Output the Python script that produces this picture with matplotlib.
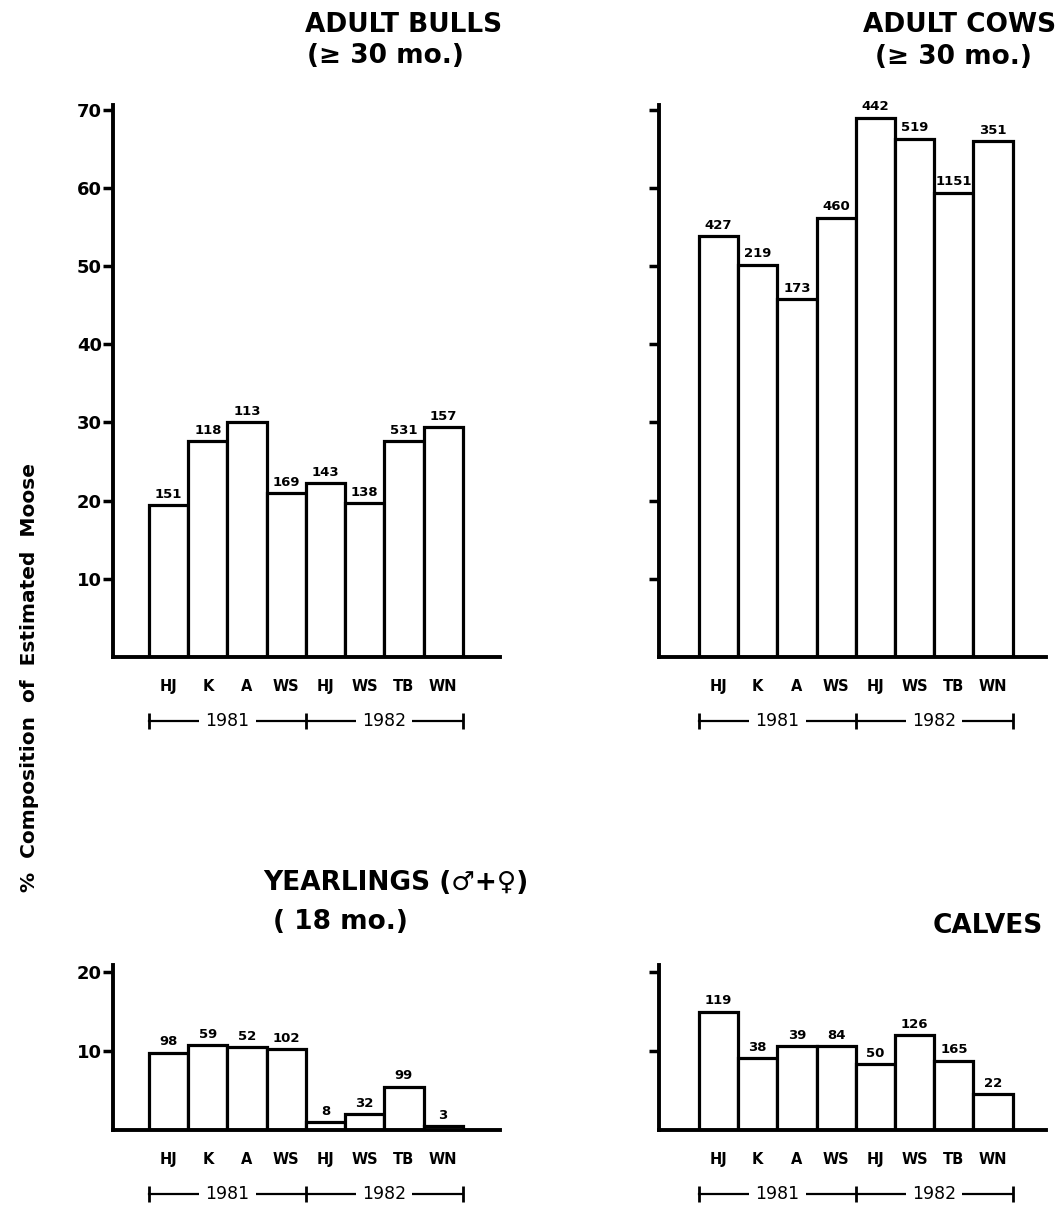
import matplotlib
matplotlib.use("Agg")
import matplotlib.pyplot as plt
from matplotlib.transforms import offset_copy

# study areas, 1981 then 1982
sites = ["HJ", "K", "A", "WS", "HJ", "WS", "TB", "WN"]
years = ["1981", "1982"]

bulls_pct = [19.4, 27.6, 30.0, 21.0, 22.2, 19.7, 27.6, 29.4]
bulls_n = [151, 118, 113, 169, 143, 138, 531, 157]

cows_pct = [53.8, 50.2, 45.8, 56.2, 69.0, 66.3, 59.4, 66.0]
cows_n = [427, 219, 173, 460, 442, 519, 1151, 351]

yearl_pct = [9.8, 10.8, 10.5, 10.2, 1.0, 2.0, 5.5, 0.5]
yearl_n = [98, 59, 52, 102, 8, 32, 99, 3]

calves_pct = [15.0, 9.1, 10.6, 10.6, 8.4, 12.0, 8.8, 4.6]
calves_n = [119, 38, 39, 84, 50, 126, 165, 22]

W, H = 1060, 1207
fig = plt.figure(figsize=(W / 100, H / 100), dpi=100)


def px_axes(left, right, top, bottom):
    return fig.add_axes([left / W, 1 - bottom / H, (right - left) / W, (bottom - top) / H])


def panel(ax, pct, n, ymax, yticks, labels, xlim):
    x = list(range(len(sites)))
    ax.bar(x, pct, width=1.0, color="white", edgecolor="black", linewidth=2.3)
    for xi, p, c in zip(x, pct, n):
        ax.annotate(str(c), (xi, p), xytext=(0, 3), textcoords="offset points",
                    ha="center", va="bottom", fontsize=9.5, fontweight="bold")
    ax.set_xlim(*xlim)
    ax.set_ylim(0, ymax)
    for s in ["top", "right"]:
        ax.spines[s].set_visible(False)
    for s in ["left", "bottom"]:
        ax.spines[s].set_linewidth(2.8)
    ax.set_yticks(yticks)
    if labels:
        ax.set_yticklabels([str(t) for t in yticks], fontsize=13, fontweight="bold")
    else:
        ax.set_yticklabels([])
    ax.tick_params(axis="y", direction="out", length=7, width=2.5, pad=1)
    ax.set_xticks(x)
    ax.set_xticklabels(sites, fontsize=10.5, fontweight="bold")
    ax.tick_params(axis="x", length=0, pad=16)

    # year bracket under the site labels
    tr = offset_copy(ax.get_xaxis_transform(), fig=fig, y=-64, units="dots")
    ax.plot([-0.5, 7.5], [0, 0], color="black", lw=1.6, transform=tr, clip_on=False)
    ax.plot([-0.5, 3.5, 7.5], [0, 0, 0], ls="none", marker="|", ms=11, mew=2,
            color="black", transform=tr, clip_on=False)
    for xc, yr in zip([1.5, 5.5], years):
        ax.text(xc, 0, yr, transform=tr, ha="center", va="center", fontsize=12.5,
                bbox=dict(boxstyle="square,pad=0.35", fc="white", ec="none"))


left_xlim = (-1.42, 8.45)
right_xlim = (-1.52, 8.35)

ax1 = px_axes(113, 500, 105, 657)
panel(ax1, bulls_pct, bulls_n, 70.6, [10, 20, 30, 40, 50, 60, 70], True, left_xlim)

ax2 = px_axes(659, 1046, 105, 657)
panel(ax2, cows_pct, cows_n, 70.6, [10, 20, 30, 40, 50, 60, 70], False, right_xlim)

ax3 = px_axes(113, 500, 965, 1130)
panel(ax3, yearl_pct, yearl_n, 20.9, [10, 20], True, left_xlim)

ax4 = px_axes(659, 1046, 965, 1130)
panel(ax4, calves_pct, calves_n, 20.9, [10, 20], False, right_xlim)

tkw = dict(fontsize=19, fontweight="bold", va="center")
fig.text(305 / W, 1 - 25 / H, "ADULT BULLS", ha="left", **tkw)
fig.text(307 / W, 1 - 56 / H, "(≥ 30 mo.)", ha="left", **tkw)
fig.text(1056 / W, 1 - 25 / H, "ADULT COWS", ha="right", **tkw)
fig.text(875 / W, 1 - 57 / H, "(≥ 30 mo.)", ha="left", **tkw)
fig.text(263 / W, 1 - 883 / H, "YEARLINGS (♂+♀)", ha="left", **tkw)
fig.text(273 / W, 1 - 922 / H, "( 18 mo.)", ha="left", **tkw)
fig.text(933 / W, 1 - 926 / H, "CALVES", ha="left", **tkw)

fig.text(30 / W, 1 - 678 / H, "%  Composition  of  Estimated  Moose", rotation=90,
         ha="center", va="center", fontsize=14.5, fontweight="bold")

fig.savefig("out.png", dpi=100)
